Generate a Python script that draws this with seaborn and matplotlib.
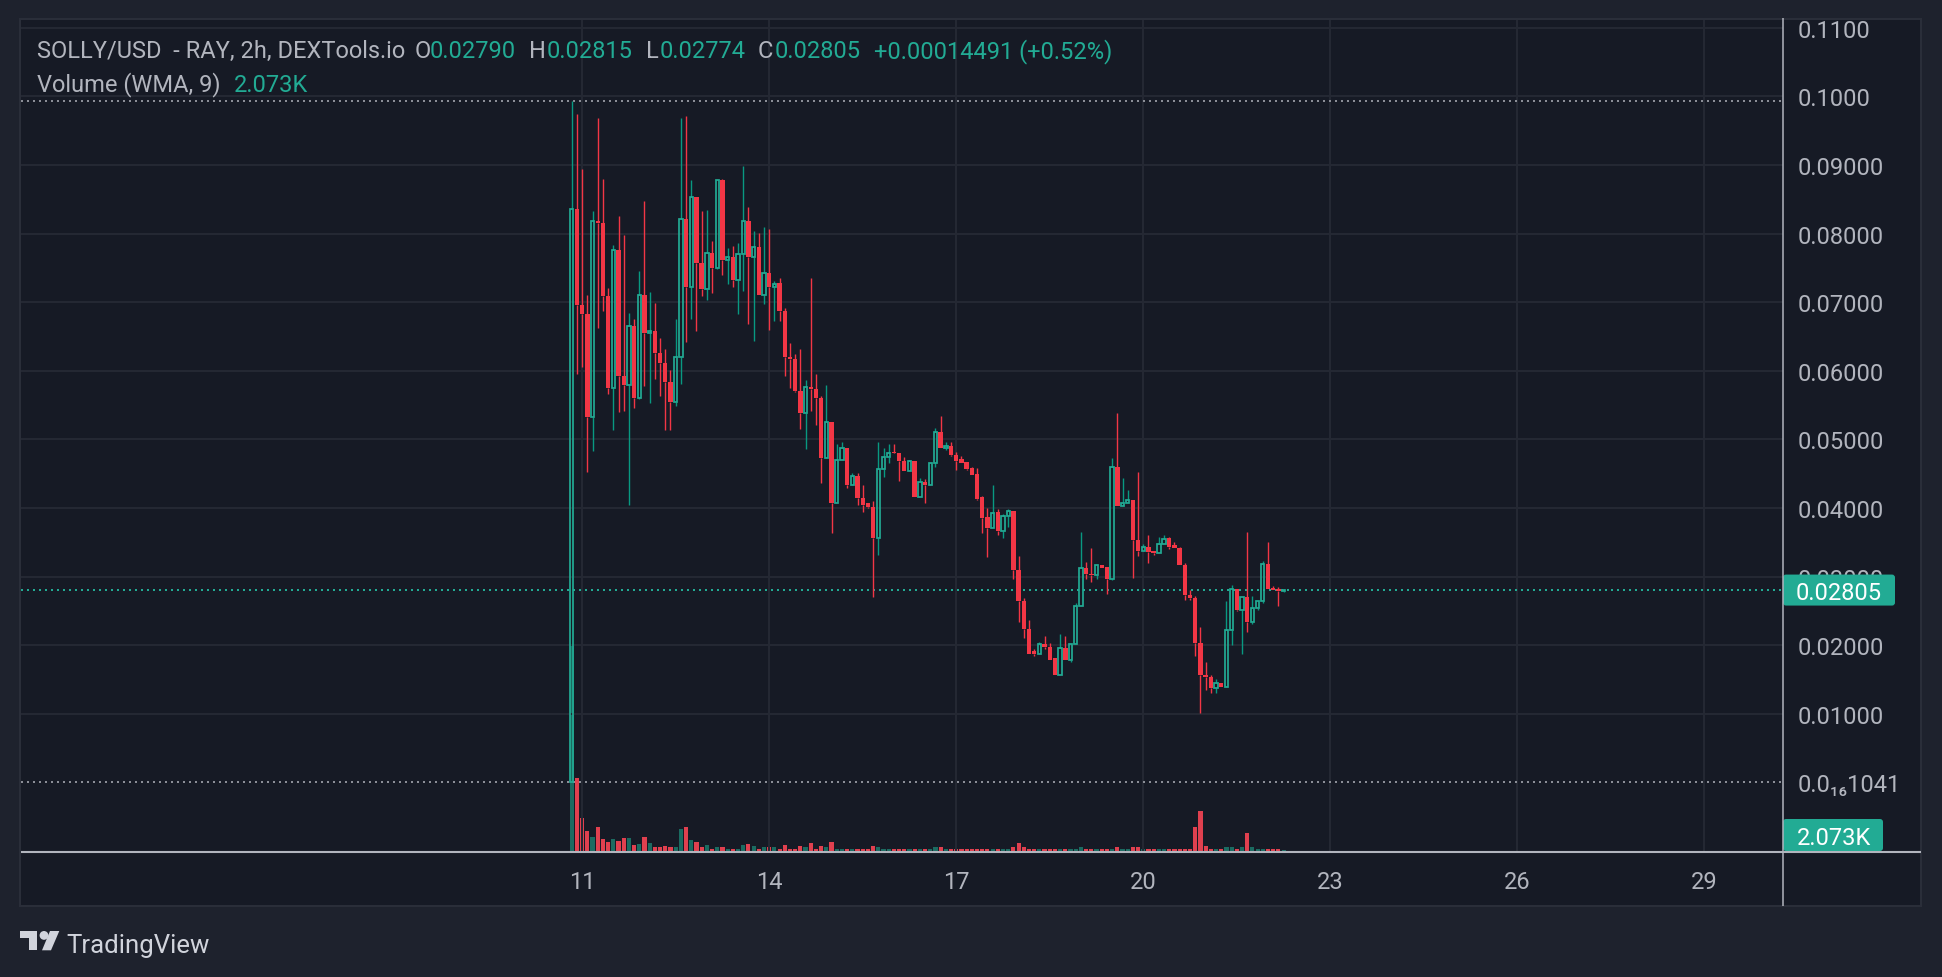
import numpy as np
import pandas as pd
import matplotlib
matplotlib.use("Agg")
import matplotlib.pyplot as plt
import matplotlib.transforms as mtrans
from matplotlib.patches import Rectangle, FancyBboxPatch, Polygon, Circle
import seaborn as sns

# ---------------- data (2h candles, SOLLY/USD) ----------------
opens = [
    1.041e-17, 0.0836, 0.0696, 0.0683, 0.0533, 0.0819, 0.0815, 0.0709, 0.0575, 0.0776,
    0.0592, 0.0579, 0.0665, 0.0561, 0.0711, 0.0655, 0.0658, 0.0626, 0.0611, 0.0584,
    0.0555, 0.0620, 0.0821, 0.0722, 0.0853, 0.0758, 0.0720, 0.0772, 0.0750, 0.0878,
    0.0761, 0.0766, 0.0733, 0.0770, 0.0819, 0.0766, 0.0780, 0.0711, 0.0743, 0.0722,
    0.0728, 0.0688, 0.0620, 0.0617, 0.0570, 0.0539, 0.0577, 0.0574, 0.0560, 0.0473,
    0.0526, 0.0408, 0.0470, 0.0488, 0.0433, 0.0447, 0.0414, 0.0407, 0.0402, 0.0356,
    0.0457, 0.0474, 0.0481, 0.0481, 0.0468, 0.0454, 0.0468, 0.0416, 0.0438, 0.0433,
    0.0465, 0.0511, 0.0488, 0.0490, 0.0478, 0.0471, 0.0467, 0.0458, 0.0449, 0.0416,
    0.0387, 0.0371, 0.0395, 0.0367, 0.0389, 0.0396, 0.0310, 0.0265, 0.0224, 0.0191,
    0.0188, 0.0202, 0.0197, 0.0181, 0.0156, 0.0196, 0.0178, 0.0202, 0.0258, 0.0313,
    0.0304, 0.0302, 0.0317, 0.0314, 0.0297, 0.0460, 0.0403, 0.0408, 0.0412, 0.0353,
    0.0338, 0.0343, 0.0337, 0.0334, 0.0348, 0.0356, 0.0346, 0.0342, 0.0317, 0.0274,
    0.0269, 0.0203, 0.0156, 0.0154, 0.0138, 0.0145, 0.0139, 0.0222, 0.0282, 0.0252,
    0.0271, 0.0234, 0.0254, 0.0264, 0.0319, 0.0283, 0.0282, 0.02790,
]
highs = [
    0.0993, 0.0974, 0.0895, 0.0711, 0.0833, 0.0969, 0.0880, 0.0721, 0.0784, 0.0826,
    0.0798, 0.0685, 0.0675, 0.0745, 0.0847, 0.0715, 0.0699, 0.0648, 0.0632, 0.0601,
    0.0675, 0.0968, 0.0971, 0.0878, 0.0853, 0.0833, 0.0834, 0.0790, 0.0878, 0.0879,
    0.0779, 0.0782, 0.0786, 0.0898, 0.0839, 0.0804, 0.0801, 0.0810, 0.0807, 0.0731,
    0.0735, 0.0692, 0.0641, 0.0625, 0.0632, 0.0587, 0.0735, 0.0596, 0.0563, 0.0580,
    0.0526, 0.0493, 0.0497, 0.0488, 0.0451, 0.0451, 0.0433, 0.0408, 0.0410, 0.0496,
    0.0487, 0.0494, 0.0494, 0.0481, 0.0474, 0.0470, 0.0468, 0.0444, 0.0442, 0.0465,
    0.0517, 0.0534, 0.0497, 0.0497, 0.0482, 0.0476, 0.0467, 0.0460, 0.0459, 0.0417,
    0.0400, 0.0433, 0.0398, 0.0392, 0.0398, 0.0396, 0.0330, 0.0269, 0.0237, 0.0194,
    0.0205, 0.0213, 0.0204, 0.0181, 0.0216, 0.0213, 0.0202, 0.0261, 0.0365, 0.0322,
    0.0342, 0.0317, 0.0317, 0.0314, 0.0473, 0.0538, 0.0444, 0.0426, 0.0412, 0.0453,
    0.0348, 0.0361, 0.0337, 0.0358, 0.0361, 0.0358, 0.0350, 0.0343, 0.0320, 0.0281,
    0.0272, 0.0227, 0.0176, 0.0156, 0.0151, 0.0145, 0.0264, 0.0288, 0.0282, 0.0271,
    0.0365, 0.0272, 0.0264, 0.0323, 0.0350, 0.0287, 0.0285, 0.02815,
]
lows = [
    1.041e-17, 0.0595, 0.0605, 0.0452, 0.0483, 0.0662, 0.0687, 0.0566, 0.0514, 0.0540,
    0.0542, 0.0405, 0.0546, 0.0559, 0.0578, 0.0553, 0.0588, 0.0564, 0.0514, 0.0514,
    0.0549, 0.0581, 0.0642, 0.0675, 0.0658, 0.0709, 0.0703, 0.0713, 0.0748, 0.0740,
    0.0727, 0.0722, 0.0683, 0.0717, 0.0668, 0.0644, 0.0711, 0.0698, 0.0659, 0.0673,
    0.0673, 0.0592, 0.0575, 0.0569, 0.0515, 0.0486, 0.0542, 0.0521, 0.0437, 0.0473,
    0.0364, 0.0408, 0.0470, 0.0430, 0.0433, 0.0404, 0.0394, 0.0400, 0.0270, 0.0331,
    0.0445, 0.0465, 0.0480, 0.0439, 0.0454, 0.0454, 0.0416, 0.0416, 0.0408, 0.0433,
    0.0460, 0.0488, 0.0484, 0.0476, 0.0455, 0.0465, 0.0455, 0.0448, 0.0412, 0.0364,
    0.0329, 0.0371, 0.0361, 0.0356, 0.0373, 0.0297, 0.0234, 0.0211, 0.0187, 0.0184,
    0.0188, 0.0194, 0.0178, 0.0156, 0.0156, 0.0178, 0.0175, 0.0202, 0.0257, 0.0297,
    0.0292, 0.0297, 0.0312, 0.0275, 0.0295, 0.0403, 0.0403, 0.0408, 0.0298, 0.0330,
    0.0338, 0.0320, 0.0331, 0.0334, 0.0348, 0.0340, 0.0342, 0.0317, 0.0266, 0.0266,
    0.0185, 0.0102, 0.0135, 0.0130, 0.0131, 0.0139, 0.0139, 0.0200, 0.0250, 0.0188,
    0.0220, 0.0231, 0.0251, 0.0262, 0.0282, 0.0281, 0.0258, 0.02774,
]
closes = [
    0.0836, 0.0696, 0.0683, 0.0533, 0.0819, 0.0815, 0.0709, 0.0575, 0.0776, 0.0592,
    0.0579, 0.0665, 0.0561, 0.0711, 0.0655, 0.0658, 0.0626, 0.0611, 0.0584, 0.0555,
    0.0620, 0.0821, 0.0722, 0.0853, 0.0758, 0.0720, 0.0772, 0.0750, 0.0878, 0.0761,
    0.0766, 0.0733, 0.0770, 0.0819, 0.0766, 0.0780, 0.0711, 0.0743, 0.0722, 0.0727,
    0.0688, 0.0620, 0.0617, 0.0570, 0.0539, 0.0577, 0.0574, 0.0560, 0.0473, 0.0526,
    0.0408, 0.0470, 0.0488, 0.0433, 0.0447, 0.0414, 0.0405, 0.0402, 0.0356, 0.0457,
    0.0474, 0.0481, 0.0480, 0.0468, 0.0454, 0.0468, 0.0416, 0.0438, 0.0433, 0.0465,
    0.0511, 0.0488, 0.0491, 0.0477, 0.0468, 0.0465, 0.0457, 0.0448, 0.0413, 0.0386,
    0.0371, 0.0393, 0.0367, 0.0389, 0.0396, 0.0310, 0.0265, 0.0224, 0.0188, 0.0188,
    0.0202, 0.0198, 0.0178, 0.0156, 0.0196, 0.0178, 0.0202, 0.0258, 0.0313, 0.0304,
    0.0302, 0.0317, 0.0312, 0.0297, 0.0460, 0.0403, 0.0408, 0.0412, 0.0353, 0.0338,
    0.0343, 0.0336, 0.0334, 0.0348, 0.0355, 0.0343, 0.0342, 0.0317, 0.0273, 0.0269,
    0.0203, 0.0156, 0.0154, 0.0138, 0.0145, 0.0139, 0.0222, 0.0282, 0.0252, 0.0271,
    0.0234, 0.0254, 0.0264, 0.0319, 0.0282, 0.0281, 0.02790509, 0.02805,
]
volumes_k = [
    216, 77, 35, 22, 15.6, 26, 13.5, 10.4, 13.5, 11.4,
    14.6, 14.6, 7.3, 8.3, 15.6, 9.4, 5.2, 4.2, 6.2, 4.2,
    4.2, 24, 26, 12.5, 10.4, 5.2, 7.3, 3.1, 5.2, 5.2,
    3.1, 3.1, 3.1, 7.3, 8.3, 6.2, 3.1, 5.2, 5.2, 4.2,
    2.1, 7.3, 3.1, 3.1, 6.2, 4.2, 9.4, 3.1, 6.2, 5.2,
    10.4, 3.1, 2.1, 2.1, 2.1, 2.1, 2.1, 2.1, 6.2, 5.2,
    2.1, 2.1, 2.1, 2.1, 2.1, 2.1, 2.1, 2.1, 2.1, 2.1,
    4.2, 5.2, 3.1, 2.1, 2.1, 2.1, 2.1, 2.1, 3.1, 2.1,
    3.1, 3.1, 2.1, 2.1, 2.1, 4.2, 9.4, 4.2, 2.1, 2.1,
    2.1, 2.1, 2.1, 2.1, 2.1, 2.1, 2.1, 2.1, 4.2, 2.1,
    2.1, 2.1, 2.1, 2.1, 2.1, 4.2, 2.1, 2.1, 4.2, 4.2,
    2.1, 2.1, 2.1, 2.1, 2.1, 2.1, 2.1, 2.1, 2.1, 2.1,
    26, 42, 6.2, 2.1, 2.1, 2.1, 5.2, 4.2, 2.1, 5.2,
    19.8, 5.2, 2.1, 3.1, 3.1, 2.1, 2.1, 2.073,
]
first_candle = "2024-01-10 20:00"

x_ticks = [11, 14, 17, 20, 23, 26, 29]
x_tick_labels = ["11", "14", "17", "20", "23", "26", "29"]
y_ticks = [0.01, 0.02, 0.03, 0.04, 0.05, 0.06, 0.07, 0.08, 0.09, 0.10, 0.11]
y_tick_labels = ["0.01000", "0.02000", "0.03000", "0.04000", "0.05000", "0.06000",
                 "0.07000", "0.08000", "0.09000", "0.1000", "0.1100"]
low_label = "0.0\u2081\u20861041"
title = "SOLLY/USD  - RAY, 2h, DEXTools.io"
vol_title = "Volume (WMA, 9)"

n = len(closes)
assert len(opens) == n and len(highs) == n and len(lows) == n and len(volumes_k) == n

# ---------------- style ----------------
OUTER = "#1e222d"
CHART = "#161a25"
BORDER = "#2a2e39"
GRID = "#242833"
LBL = "#b2b5be"
AXLINE = "#b2b5be"
UP = "#22ab94"
UP_WICK = "#089981"
DN = "#f23645"
VOL_UP = "#1b6b61"
VOL_DN = "#e0404f"
TEAL_BOX = "#22ab94"

sns.set_theme(style="dark")
plt.rcParams['font.family'] = ['Roboto', 'DejaVu Sans']

W, H = 1942, 978
fig = plt.figure(figsize=(W / 100, H / 100), dpi=100, facecolor=OUTER)

# background frame
bg = fig.add_axes([0, 0, 1, 1], zorder=-10)
bg.set_xlim(0, W); bg.set_ylim(H, 0); bg.axis('off')
bg.add_patch(Rectangle((20, 20), 1901, 887, fc=CHART, ec='none'))

# price/volume pane
PL, PR, PT, PB = 21, 1783, 21, 852.5
ax = fig.add_axes([PL / W, 1 - PB / H, (PR - PL) / W, (PB - PT) / H])
ax2 = ax.twinx()
ax.set_zorder(ax2.get_zorder() + 1)
ax.patch.set_visible(False)

times = pd.date_range(first_candle, periods=n, freq="2h")
xs = np.array(times.day + times.hour / 24.0, dtype=float)
o = np.array(opens); h = np.array(highs); l = np.array(lows); c = np.array(closes)
v = np.array(volumes_k)
up = c >= o

# volume (seaborn bars, native numeric x)
vol_df = pd.DataFrame({"t": xs, "v": v, "dir": np.where(up, "up", "down")})
sns.barplot(data=vol_df, x="t", y="v", hue="dir", native_scale=True, dodge=False,
            palette={"up": VOL_UP, "down": VOL_DN}, width=0.8, errorbar=None,
            saturation=1, linewidth=0, legend=False, ax=ax2)
ax2.set_ylim(0, 872)
ax2.axis('off')

# candles (hollow up candles, filled down candles)
bl = np.minimum(o, c); bh = np.maximum(o, c)
wick_cols = np.where(up, UP_WICK, DN)
ax.vlines(xs, bh, h, colors=wick_cols, linewidth=1.0, zorder=3)
ax.vlines(xs, l, bl, colors=wick_cols, linewidth=1.0, zorder=3)
bh_min = np.maximum(bh - bl, 0.00022)
ax.bar(xs[~up], bh_min[~up], bottom=bl[~up], width=0.85 / 12, color=DN, linewidth=0, zorder=4)
ax.bar(xs[up], bh_min[up], bottom=bl[up], width=0.64 / 12, facecolor='none',
       edgecolor=UP, linewidth=1.25, zorder=4)

# high / low / last price lines
ax.axhline(h.max(), color="#8b8e97", lw=1.44, ls=(0, (1, 2)), zorder=2)
ax.axhline(l.min(), color="#8b8e97", lw=1.44, ls=(0, (1, 2)), zorder=2)
ax.axhline(c[-1], color=UP, lw=1.44, ls=(0, (1, 2)), zorder=2)

ax.set_xlim(2.0, 30.26)
ax.set_ylim(-0.01006, 0.11115)
ax.set_yticks(y_ticks)
ax.set_yticklabels(y_tick_labels)
ax.yaxis.tick_right()
ax.set_xticks(x_ticks)
ax.set_xticklabels(x_tick_labels)
ax.tick_params(axis='y', length=0, pad=10.4, labelsize=17, labelcolor=LBL)
ax.tick_params(axis='x', length=0, pad=13, labelsize=17, labelcolor=LBL)
ax.grid(True, color=GRID, lw=1.44)
ax.set_axisbelow(True)
for s in ax.spines.values():
    s.set_visible(False)
ax.set_xlabel(""); ax.set_ylabel("")
ax.text(1.0, l.min(), low_label,
        transform=ax.get_yaxis_transform() + mtrans.ScaledTranslation(14.5 / 100, 0, fig.dpi_scale_trans),
        ha='left', va='center_baseline', color=LBL, fontsize=17,
        family=['Roboto', 'DejaVu Sans'])

# ---------------- overlay ----------------
ov = fig.add_axes([0, 0, 1, 1], zorder=20)
ov.set_xlim(0, W); ov.set_ylim(H, 0); ov.axis('off')
ov.patch.set_visible(False)
ov.add_patch(Rectangle((0, 0), W, 19.5, fc=OUTER, ec='none'))
ov.add_patch(Rectangle((20, 20), 1901, 887, fc='none', ec=BORDER, lw=1.44))
ov.plot([1783, 1783], [19, 907], color=AXLINE, lw=1.1, solid_capstyle='butt')
ov.plot([21, 1921], [852.5, 852.5], color=AXLINE, lw=1.5, solid_capstyle='butt')

# last price box
yp = H - ax.transData.transform((xs[-1], c[-1]))[1]
ov.add_patch(FancyBboxPatch((1783, yp - 15.5), 112, 31,
                            boxstyle="round,pad=0,rounding_size=3", fc=TEAL_BOX, ec='none'))
ov.text(1796, yp, f"{c[-1]:.5f}", ha='left', va='center_baseline', color='white', fontsize=17)

# volume box
yv = H - ax2.transData.transform((xs[-1], v[-1]))[1]
yv = min(yv, PB - 16.5)
ov.add_patch(FancyBboxPatch((1783, yv - 16), 100, 32,
                            boxstyle="round,pad=0,rounding_size=3", fc=TEAL_BOX, ec='none'))
ov.text(1797, yv, f"{v[-1]:.3f}K", ha='left', va='center_baseline', color='white', fontsize=17)

# header legend
chg = c[-1] - c[-2]
pct = chg / c[-2] * 100
hdr = [
    (36.7, title, LBL),
    (415, "O", LBL), (430, f"{o[-1]:.5f}", UP),
    (529, "H", LBL), (546.5, f"{h[-1]:.5f}", UP),
    (646, "L", LBL), (660, f"{l[-1]:.5f}", UP),
    (758, "C", LBL), (775, f"{c[-1]:.5f}", UP),
    (874, f"{chg:+.8f} ({pct:+.2f}%)", UP),
]
for x0, s, col in hdr:
    ov.text(x0, 58.3, s, ha='left', va='baseline', color=col, fontsize=17)
ov.text(36.7, 91.7, vol_title, ha='left', va='baseline', color=LBL, fontsize=17)
ov.text(234, 91.7, f"{v[-1]:.3f}K", ha='left', va='baseline', color=UP, fontsize=17)

# TradingView logo
LOGO = "#d1d4dc"
ov.add_patch(Rectangle((20, 932), 17.3, 6.6, fc=LOGO, ec='none'))
ov.add_patch(Rectangle((28.8, 932), 8.5, 19.3, fc=LOGO, ec='none'))
ov.add_patch(Circle((44.0, 936.4), 4.4, fc=LOGO, ec='none'))
ov.add_patch(Polygon([(50.0, 932), (59.3, 932), (51.0, 951.3), (42.0, 951.3)],
                     closed=True, fc=LOGO, ec='none'))
ov.text(66.5, 952.5, "TradingView", ha='left', va='baseline', color=LOGO, fontsize=18.5)

fig.savefig("out.png", dpi=100, facecolor=OUTER)
